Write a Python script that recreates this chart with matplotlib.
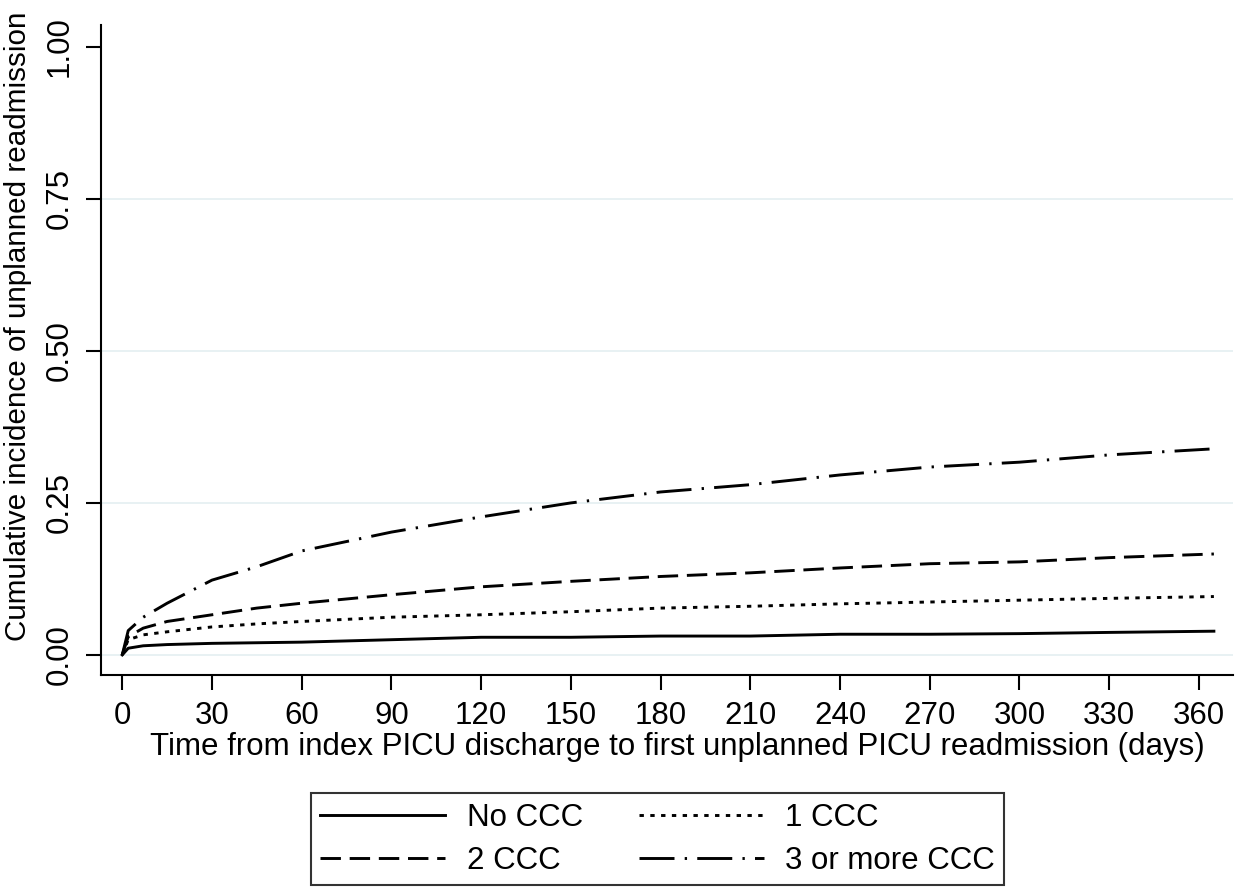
import numpy as np
import matplotlib.pyplot as plt

plt.rcParams['font.family'] = ['Liberation Sans', 'DejaVu Sans']

# data
days = [0, 2, 7, 15, 30, 45, 60, 90, 120, 150, 180, 210, 240, 270, 300, 330, 365]
no_ccc = [0, 0.011, 0.015, 0.017, 0.019, 0.020, 0.021, 0.025, 0.029, 0.029,
          0.031, 0.031, 0.034, 0.034, 0.035, 0.037, 0.039]
one_ccc = [0, 0.025, 0.033, 0.038, 0.046, 0.051, 0.055, 0.062, 0.066, 0.071,
           0.077, 0.080, 0.084, 0.087, 0.090, 0.093, 0.096]
two_ccc = [0, 0.030, 0.044, 0.055, 0.066, 0.077, 0.085, 0.099, 0.112, 0.121,
           0.129, 0.135, 0.143, 0.150, 0.153, 0.160, 0.166]
three_ccc = [0, 0.040, 0.062, 0.085, 0.123, 0.145, 0.171, 0.202, 0.227, 0.250,
             0.268, 0.280, 0.296, 0.309, 0.317, 0.329, 0.339]

xticks = list(range(0, 361, 30))
yticks = [0, 0.25, 0.5, 0.75, 1.0]
ytick_labels = ['0.00', '0.25', '0.50', '0.75', '1.00']

fs = 22.5
lw = 2.1

fig = plt.figure(figsize=(12.48, 8.88), dpi=100)
ax = fig.add_axes([0.0807, 0.2399, 0.9073, 0.7319])

# gridlines
for g in [0, 0.25, 0.5, 0.75]:
    ax.axhline(g, color='#e6f0f2', lw=1.3, zorder=0)

l1, = ax.plot(days, no_ccc, color='black', lw=lw, ls='-', label='No CCC')
l2, = ax.plot(days, one_ccc, color='black', lw=lw, ls=(0, (1.5, 2.2)), label='1 CCC')
l3, = ax.plot(days, two_ccc, color='black', lw=lw, ls=(0, (7, 3)), label='2 CCC')
l4, = ax.plot(days, three_ccc, color='black', lw=lw, ls=(0, (12, 3.5, 0.8, 3.5)),
              label='3 or more CCC')

ax.set_xlim(-7.2, 371.4)
ax.set_ylim(-0.033, 1.036)

ax.set_xticks(xticks)
ax.set_yticks(yticks)
ax.set_yticklabels(ytick_labels, rotation=90, va='center')
ax.tick_params(axis='both', direction='out', length=10.5, width=1.5,
               labelsize=fs, color='black', pad=8)

for s in ['top', 'right']:
    ax.spines[s].set_visible(False)
for s in ['left', 'bottom']:
    ax.spines[s].set_linewidth(1.5)

ax.set_xlabel('Time from index PICU discharge to first unplanned PICU readmission (days)',
              fontsize=fs)
ax.xaxis.set_label_coords(0.509, -0.087)
ax.set_ylabel('Cumulative incidence of unplanned readmission', fontsize=21.3)
ax.yaxis.set_label_coords(-0.061, 0.536)

leg = fig.legend(handles=[l1, l3, l2, l4], loc='center', bbox_to_anchor=(0.527, 0.055),
                 ncol=2, fontsize=fs, frameon=True, fancybox=False,
                 handlelength=4.0, handletextpad=0.68, columnspacing=1.8,
                 labelspacing=0.42, borderpad=0.3)
leg.get_frame().set_edgecolor('black')
leg.get_frame().set_linewidth(1.5)

fig.savefig('out.png', dpi=100)
